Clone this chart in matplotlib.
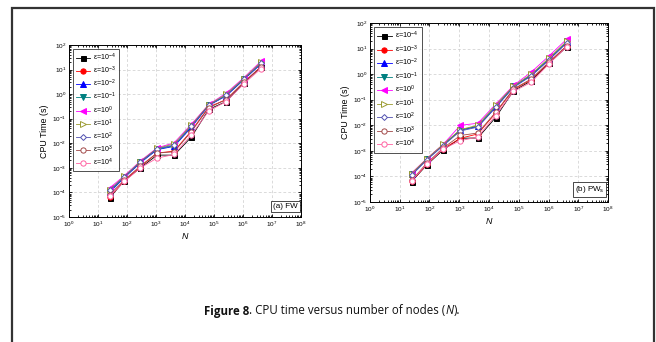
import matplotlib
matplotlib.use("Agg")
import matplotlib.pyplot as plt
from matplotlib.patches import Rectangle
from matplotlib.ticker import LogLocator, NullFormatter

# ---------------- data ----------------
N = [25, 81, 289, 1089, 4225, 16641, 66049, 263169, 1050625, 4198401]
eps_labels = ["ε=10$^{-4}$", "ε=10$^{-3}$", "ε=10$^{-2}$",
              "ε=10$^{-1}$", "ε=10$^{0}$", "ε=10$^{1}$",
              "ε=10$^{2}$", "ε=10$^{3}$", "ε=10$^{4}$"]

fw_m4 = [6e-5, 3e-4, 1.0e-3, 3.3e-3, 3.3e-3, 1.8e-2, 0.24, 0.5, 2.8, 13]
fw_m3 = [6.5e-5, 3e-4, 1.1e-3, 4e-3, 4.8e-3, 3.2e-2, 0.3, 0.6, 3.0, 13]
fw_m2 = [1.0e-4, 4e-4, 1.6e-3, 5.5e-3, 7.5e-3, 4.5e-2, 0.35, 0.85, 3.8, 17]
fw_m1 = [1.1e-4, 4.2e-4, 1.7e-3, 5.8e-3, 8e-3, 5e-2, 0.36, 0.9, 4.0, 18]
fw_p0 = [1.5e-4, 4.8e-4, 1.9e-3, 6.5e-3, 1.05e-2, 6e-2, 0.38, 1.1, 4.6, 22]
fw_p1 = [1.3e-4, 4.5e-4, 1.8e-3, 6.2e-3, 9.5e-3, 5.5e-2, 0.37, 1.0, 4.3, 20]
fw_p2 = [1.2e-4, 4.3e-4, 1.7e-3, 6e-3, 8.5e-3, 5e-2, 0.35, 0.9, 4.0, 18]
fw_p3 = [8e-5, 3.2e-4, 1.2e-3, 4e-3, 4.5e-3, 3e-2, 0.28, 0.6, 3.0, 13]
fw_p4 = [7e-5, 2.8e-4, 1.0e-3, 2.5e-3, 3.5e-3, 2.2e-2, 0.21, 0.5, 2.6, 11]

pw_m4 = [6.3e-5, 2.8e-4, 1.1e-3, 3.1e-3, 3.2e-3, 2.0e-2, 0.22, 0.55, 2.7, 12]
pw_m3 = [6.5e-5, 3.0e-4, 1.2e-3, 3.1e-3, 4.6e-3, 3.0e-2, 0.25, 0.6, 2.9, 13]
pw_m2 = [1.2e-4, 4.6e-4, 1.7e-3, 6.5e-3, 9e-3, 5.0e-2, 0.32, 0.9, 3.8, 18]
pw_m1 = [1.25e-4, 4.8e-4, 1.75e-3, 6.5e-3, 9.5e-3, 5.5e-2, 0.33, 0.95, 4.0, 19]
pw_p0 = [1.35e-4, 5.0e-4, 1.8e-3, 1.0e-2, 1.2e-2, 6.6e-2, 0.36, 1.2, 5.2, 24]
pw_p1 = [1.3e-4, 4.9e-4, 1.8e-3, 6.8e-3, 1.0e-2, 6.0e-2, 0.34, 1.0, 4.3, 20]
pw_p2 = [1.1e-4, 4.4e-4, 1.6e-3, 6.0e-3, 8.5e-3, 5.0e-2, 0.3, 0.85, 3.6, 17]
pw_p3 = [7e-5, 3.3e-4, 1.3e-3, 4.0e-3, 5.0e-3, 3.2e-2, 0.26, 0.65, 3.0, 13]
pw_p4 = [6.8e-5, 3.0e-4, 1.2e-3, 2.5e-3, 3.5e-3, 2.4e-2, 0.21, 0.48, 2.6, 12]

fw_series = [fw_m4, fw_m3, fw_m2, fw_m1, fw_p0, fw_p1, fw_p2, fw_p3, fw_p4]
pw_series = [pw_m4, pw_m3, pw_m2, pw_m1, pw_p0, pw_p1, pw_p2, pw_p3, pw_p4]

colors = ["#000000", "#ff0000", "#0000ff", "#008080", "#ff00ff",
          "#9a9a30", "#5050b0", "#a04848", "#ff60a0"]
markers = ["s", "o", "^", "v", "<", ">", "D", "o", "o"]
filled = [True, True, True, True, True, False, False, False, False]
msizes = [3.6, 3.8, 3.8, 3.8, 3.8, 3.8, 3.0, 3.8, 3.8]

xticks = [10.0**k for k in range(0, 9)]
xtick_labels = [r"10$^{%d}$" % k for k in range(0, 9)]
yticks = [10.0**k for k in range(-5, 3)]
ytick_labels = [r"10$^{%d}$" % k for k in range(-5, 3)]

# ---------------- figure ----------------
W, H = 656, 342
fig = plt.figure(figsize=(W / 100, H / 100), dpi=100)
plt.rcParams['font.family'] = ['Liberation Sans', 'DejaVu Sans']
plt.rcParams['mathtext.fontset'] = 'custom'
plt.rcParams['mathtext.rm'] = 'Liberation Sans'
plt.rcParams['mathtext.it'] = 'Liberation Sans:italic'

# outer border
fig.patches.append(Rectangle((12 / W, -0.05), (654 - 12) / W, 1.05 - 8 / H,
                             transform=fig.transFigure, fill=False,
                             edgecolor="#333333", linewidth=1.6))


def panel(rect, series, tag, fs, spacing):
    ax = fig.add_axes(rect)
    for s, c, m, f, ms, lab in zip(series, colors, markers, filled, msizes, eps_labels):
        ax.plot(N, s, color=c, lw=0.6, marker=m, markersize=ms,
                markerfacecolor=(c if f else "white"), markeredgecolor=c,
                markeredgewidth=0.7, label=lab)
    ax.set_xscale("log")
    ax.set_yscale("log")
    ax.set_xlim(1, 1e8)
    ax.set_ylim(1e-5, 1e2)
    ax.set_xticks(xticks)
    ax.set_xticklabels(xtick_labels)
    ax.set_yticks(yticks)
    ax.set_yticklabels(ytick_labels)
    ax.xaxis.set_minor_locator(LogLocator(base=10, subs=range(2, 10), numticks=20))
    ax.yaxis.set_minor_locator(LogLocator(base=10, subs=range(2, 10), numticks=20))
    ax.xaxis.set_minor_formatter(NullFormatter())
    ax.yaxis.set_minor_formatter(NullFormatter())
    ax.tick_params(which="both", direction="in", top=True, right=True,
                   labelsize=4.6, width=0.6, pad=2)
    ax.tick_params(which="major", length=2.5)
    ax.tick_params(which="minor", length=1.3)
    ax.grid(True, which="major", linestyle=(0, (4, 3)), color="#cccccc", lw=0.5)
    for sp in ax.spines.values():
        sp.set_linewidth(0.7)
    ax.set_ylabel("CPU Time (s)", fontsize=6.4, labelpad=2)
    ax.set_xlabel("N", fontsize=6.4, style="italic", labelpad=2)
    leg = ax.legend(loc="upper left", fontsize=fs, frameon=True, fancybox=False,
                    edgecolor="#000000", handlelength=2.0, handletextpad=0.4,
                    labelspacing=spacing, borderpad=0.45, borderaxespad=0.5)
    leg.get_frame().set_linewidth(0.6)
    ax.text(0.985, 0.04, tag, transform=ax.transAxes, ha="right", va="bottom",
            fontsize=5.8, bbox=dict(boxstyle="square,pad=0.25", fc="white",
                                    ec="#000000", lw=0.5))
    return ax


panel([69 / W, 1 - 217 / H, 232 / W, 172 / H], fw_series, "(a) FW", 5.1, 0.26)
panel([370 / W, 1 - 202 / H, 238 / W, 179 / H], pw_series, r"(b) PW$_{\mathregular{s}}$", 5.3, 0.3)

# caption
cap_font = ['Open Sans', 'DejaVu Sans']
fig.canvas.draw()
r = fig.canvas.get_renderer()
parts = [("Figure 8", "bold", "normal"), (". CPU time versus number of nodes (", "normal", "normal"),
         ("N", "normal", "italic"), (").", "normal", "normal")]
texts = []
widths = []
for s, w, st in parts:
    t = fig.text(0, 1 - 311 / H, s, fontsize=8.3, weight=w, style=st,
                 family=cap_font, va="center", ha="left", color="#111111")
    texts.append(t)
    widths.append(t.get_window_extent(r).width)
total = sum(widths)
x = 332 - total / 2
for t, w in zip(texts, widths):
    t.set_x(x / W)
    x += w

fig.savefig("out.png", dpi=100)
